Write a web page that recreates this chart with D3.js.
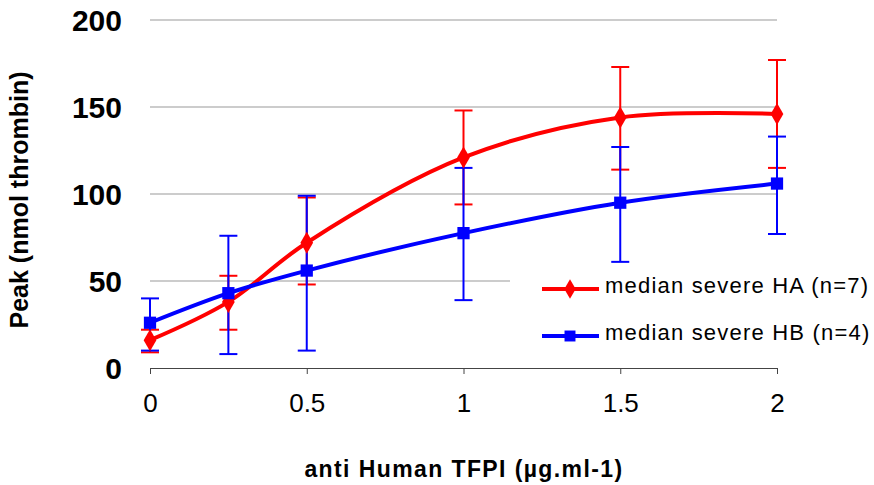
<!DOCTYPE html>
<html>
<head>
<meta charset="utf-8">
<script src="https://cdn.jsdelivr.net/npm/d3@7"></script>
<style>
	body { margin: 0; background: #fff; }
	text { font-family: "Liberation Sans", Arial, sans-serif; }
</style>
</head>
<body>
<svg width="874" height="485"></svg>
<script>
	// data
	var doses = [0, 0.25, 0.5, 1, 1.5, 2];
	var haMedian = [16, 38, 72, 121, 144, 146];
	var haLow = [9, 22, 48, 94, 114, 115];
	var haHigh = [22, 53, 98, 148, 173, 177];
	var hbMedian = [26, 43, 56, 77.5, 95, 106];
	var hbLow = [10, 8, 10, 39, 61, 77];
	var hbHigh = [40, 76, 99, 115, 127, 133];
	var xTicks = [0, 0.5, 1, 1.5, 2];
	var yTicks = [0, 50, 100, 150, 200];
	var seriesNames = ['median severe HA (n=7)', 'median severe HB (n=4)'];
	var seriesColors = ['#ff0000', '#0000ff'];

	var svg = d3.select('svg');

	var x = d3.scaleLinear().domain([0, 2]).range([150, 777]);
	var y = d3.scaleLinear().domain([0, 200]).range([368, 20]);

	// gridlines
	svg.append('g')
		.selectAll('line')
		.data(yTicks.filter(function(d) { return d > 0; }))
		.enter().append('line')
			.attr('x1', x(0))
			.attr('x2', x(2))
			.attr('y1', function(d) { return y(d); })
			.attr('y2', function(d) { return y(d); })
			.attr('stroke', '#999')
			.attr('stroke-width', 1);

	// x axis
	var xAxis = svg.append('g')
		.attr('transform', 'translate(0,' + y(0) + ')')
		.call(d3.axisBottom(x).tickValues(xTicks).tickSizeInner(6).tickSizeOuter(0).tickPadding(20)
			.tickFormat(function(d) { return String(d); }));
	xAxis.select('.domain').attr('stroke', '#444');
	xAxis.selectAll('.tick line').attr('stroke', '#444');
	xAxis.selectAll('text')
		.attr('font-size', 26)
		.attr('font-family', '"Liberation Sans", Arial, sans-serif')
		.attr('fill', '#000');

	// y labels (no axis line in the picture)
	svg.append('g')
		.selectAll('text')
		.data(yTicks)
		.enter().append('text')
			.attr('x', 122)
			.attr('y', function(d) { return y(d); })
			.attr('dy', '0.36em')
			.attr('text-anchor', 'end')
			.attr('font-size', 30)
			.attr('font-weight', 'bold')
			.text(function(d) { return d; });

	svg.append('text')
		.attr('transform', 'translate(28,200) rotate(-90)')
		.attr('text-anchor', 'middle')
		.attr('font-size', 25)
		.attr('font-weight', 'bold')
		.text('Peak (nmol thrombin)');

	svg.append('text')
		.attr('x', 464)
		.attr('y', 477)
		.attr('text-anchor', 'middle')
		.attr('font-size', 23)
		.attr('font-weight', 'bold')
		.attr('letter-spacing', 1.4)
		.text('anti Human TFPI (\u00b5g.ml-1)');

	var series = [
		{ name: seriesNames[0], color: seriesColors[0], med: haMedian, lo: haLow, hi: haHigh, shape: d3.symbolDiamond, size: 140 },
		{ name: seriesNames[1], color: seriesColors[1], med: hbMedian, lo: hbLow, hi: hbHigh, shape: d3.symbolSquare, size: 150 }
	];

	var line = d3.line()
		.x(function(d) { return x(d.dose); })
		.y(function(d) { return y(d.v); })
		.curve(d3.curveCatmullRom.alpha(0.5));

	// error bars first
	series.forEach(function(s) {
		var pts = doses.map(function(d, i) { return { dose: d, lo: s.lo[i], hi: s.hi[i] }; });
		var g = svg.append('g').attr('stroke', s.color).attr('stroke-width', 2);
		g.selectAll('line.v').data(pts).enter().append('line')
			.attr('x1', function(d) { return x(d.dose); })
			.attr('x2', function(d) { return x(d.dose); })
			.attr('y1', function(d) { return y(d.lo); })
			.attr('y2', function(d) { return y(d.hi); });
		['lo', 'hi'].forEach(function(k) {
			g.selectAll('line.' + k).data(pts).enter().append('line')
				.attr('x1', function(d) { return x(d.dose) - 9; })
				.attr('x2', function(d) { return x(d.dose) + 9; })
				.attr('y1', function(d) { return y(d[k]); })
				.attr('y2', function(d) { return y(d[k]); });
		});
	});

	series.forEach(function(s) {
		var pts = doses.map(function(d, i) { return { dose: d, v: s.med[i] }; });
		svg.append('path')
			.datum(pts)
			.attr('d', line)
			.attr('fill', 'none')
			.attr('stroke', s.color)
			.attr('stroke-width', 4);
		svg.append('g')
			.selectAll('path')
			.data(pts)
			.enter().append('path')
				.attr('transform', function(d) { return 'translate(' + x(d.dose) + ',' + y(d.v) + ')'; })
				.attr('d', d3.symbol().type(s.shape).size(s.size))
				.attr('fill', s.color);
	});

	// legend, drawn over the plot with a white box
	var legend = svg.append('g');
	legend.append('rect')
		.attr('x', 510)
		.attr('y', 266)
		.attr('width', 364)
		.attr('height', 92)
		.attr('fill', '#fff');
	var item = legend.selectAll('g')
		.data(series)
		.enter().append('g')
			.attr('transform', function(d, i) { return 'translate(0,' + (289 + i * 47) + ')'; });
	item.append('line')
		.attr('x1', 542).attr('x2', 599)
		.attr('stroke', function(d) { return d.color; })
		.attr('stroke-width', 4);
	item.append('path')
		.attr('transform', 'translate(570,0)')
		.attr('d', function(d) { return d3.symbol().type(d.shape).size(d.size * 0.8)(); })
		.attr('fill', function(d) { return d.color; });
	item.append('text')
		.attr('x', 605)
		.attr('y', 4)
		.attr('font-size', 22)
		.attr('letter-spacing', 1.2)
		.text(function(d) { return d.name; });
</script>
</body>
</html>
